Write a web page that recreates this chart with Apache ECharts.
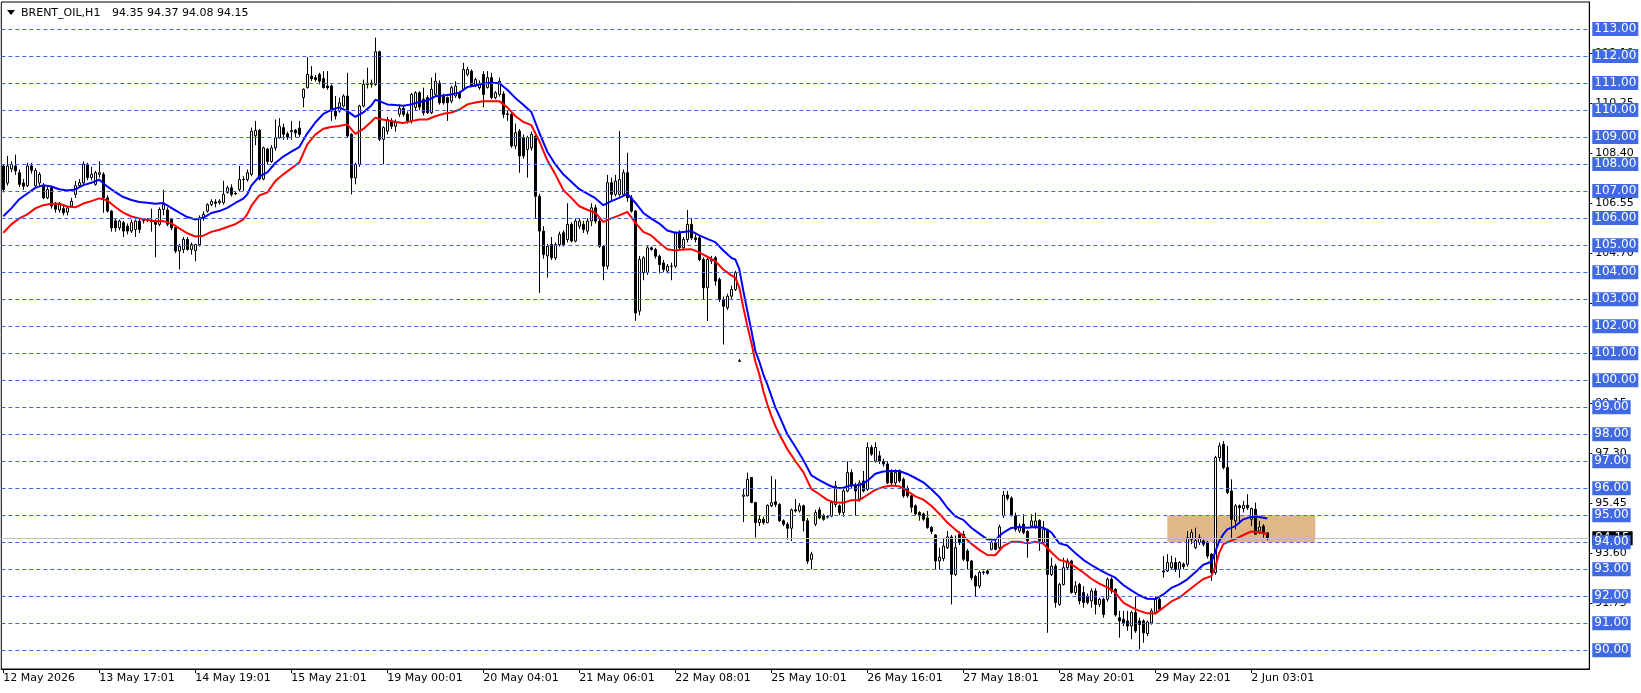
<!DOCTYPE html>
<html><head><meta charset="utf-8">
<script src="https://cdn.jsdelivr.net/npm/echarts@6/dist/echarts.min.js"></script>
<style>html,body{margin:0;padding:0;background:#fff;}#c{width:1641px;height:693px;}</style>
</head><body><div id="c"></div><script>
// ---------------- DATA ----------------
const symbolName = 'BRENT_OIL,H1';
const timeLabels = ['12 May 2026','13 May 17:01','14 May 19:01','15 May 21:01','19 May 00:01','20 May 04:01','21 May 06:01','22 May 08:01','25 May 10:01','26 May 16:01','27 May 18:01','28 May 20:01','29 May 22:01','2 Jun 03:01'];
const LABEL_STEP = 24;      // bars between time labels
const TOTAL_SLOTS = 397;    // bars + empty chart-shift slots
const levelLines = [113,112,111,110,109,108,107,106,105,104,103,102,101,100,99,98,97,96,95,94,93,92,91,90];
const scaleTicks = [112.10,110.25,108.40,106.55,104.70,102.85,101.00,99.15,97.30,95.45,93.60,91.75];
const zoneBars = [291, 328];
const zonePrices = [94, 95];

const opens = [
107.93,107.30,107.82,107.93,107.68,107.30,107.20,107.93,107.20,107.30,
107.19,106.75,107.12,106.50,106.30,106.35,106.22,106.45,106.88,107.20,
107.30,107.99,107.50,107.25,107.62,107.62,106.75,106.26,105.90,105.64,
105.83,105.70,105.52,105.58,105.89,105.95,105.95,105.92,105.90,105.77,
106.32,106.30,105.95,105.64,104.78,104.84,105.21,104.84,104.80,105.02,
106.00,106.26,106.50,106.60,106.57,106.57,106.95,107.12,106.92,107.06,
107.43,107.43,107.62,109.05,109.25,107.45,108.55,108.10,108.60,108.97,
109.35,109.12,109.20,109.25,109.33,110.46,110.83,111.26,111.20,111.32,
111.16,110.89,110.89,109.96,109.96,110.15,110.52,109.10,107.49,107.99,
110.15,111.00,110.95,110.95,112.16,108.92,109.22,109.60,109.40,109.85,
110.06,109.85,109.60,110.10,110.64,110.40,110.46,109.90,110.58,111.00,
110.52,110.46,110.33,110.52,110.64,110.77,111.32,111.44,110.89,110.83,
111.32,110.83,111.20,110.46,110.58,110.60,109.86,109.84,108.67,109.22,
108.98,108.54,108.60,109.04,106.81,105.52,104.60,105.02,104.53,105.02,
105.46,105.21,105.77,105.15,105.70,105.77,105.52,105.89,106.38,105.89,
104.96,104.22,107.31,106.88,106.88,106.88,107.68,106.75,106.26,102.56,
103.98,103.98,104.90,104.84,104.59,104.34,104.04,104.22,104.22,105.46,
104.90,105.21,105.77,105.27,105.27,104.47,103.42,104.41,104.53,103.73,
102.99,102.68,103.11,103.36,100.72,95.70,95.72,96.40,95.47,94.73,
94.85,94.73,95.35,95.50,95.40,94.80,94.67,94.52,95.20,95.16,
95.35,94.80,93.37,94.67,95.20,95.00,94.93,94.97,95.40,95.35,
95.10,95.90,96.58,96.09,95.60,96.27,95.96,97.51,97.00,97.20,
97.00,96.90,96.58,96.20,96.65,96.33,96.00,95.72,95.35,95.10,
95.05,94.90,94.55,94.27,93.31,93.40,93.80,94.20,92.81,94.30,
94.30,93.68,93.31,92.73,92.38,92.88,92.94,93.74,93.99,93.80,
94.98,95.75,95.63,94.98,94.42,94.67,94.40,94.60,94.60,94.81,
93.99,94.48,92.81,93.12,91.70,92.44,93.06,93.31,92.14,92.44,
92.14,92.01,91.83,92.20,91.70,91.89,91.89,92.63,92.26,91.21,
91.15,91.09,90.90,91.40,91.09,91.09,90.62,91.02,91.40,91.89,
92.94,92.94,93.06,93.25,93.00,93.19,93.19,94.11,93.80,93.99,
94.05,93.99,93.56,92.88,97.14,97.63,96.77,95.90,94.79,95.35,
95.25,95.37,94.85,95.22,94.42,94.60,94.35];

const highs = [
108.00,108.30,108.10,108.35,107.80,107.45,108.05,108.05,107.85,107.70,
107.30,107.15,107.20,106.60,106.60,106.45,106.45,106.75,107.38,107.45,
108.10,108.05,107.90,107.75,108.10,107.70,106.85,106.30,106.00,105.95,
105.90,105.80,105.95,105.95,106.00,106.00,106.00,106.35,105.95,106.40,
107.05,106.40,106.00,105.70,105.05,105.30,105.30,105.10,105.05,106.10,
106.25,106.55,106.70,106.70,106.70,107.38,107.20,107.25,107.00,107.93,
107.55,107.80,109.35,109.60,109.30,108.65,108.60,108.70,109.65,109.70,
109.50,109.20,109.60,109.30,109.60,110.80,111.96,111.63,111.30,111.38,
111.44,111.44,110.95,110.52,110.46,110.58,111.38,109.15,108.05,110.20,
111.13,111.57,111.13,112.68,112.20,109.40,109.75,109.70,109.65,110.20,
110.15,109.95,110.63,110.70,110.70,110.83,110.55,111.20,111.38,111.10,
110.60,110.50,110.90,111.07,110.70,111.75,111.60,111.50,111.20,111.10,
111.44,111.44,111.38,110.70,111.20,110.70,110.00,109.90,109.50,109.30,
109.10,109.05,109.20,109.20,106.90,105.70,105.05,105.30,105.10,105.50,
105.55,106.55,105.85,106.00,106.00,105.90,106.00,106.55,106.50,106.00,
105.00,107.60,107.50,107.60,109.22,107.80,108.42,106.85,106.30,104.60,
104.60,105.00,104.95,104.90,104.65,104.45,104.30,104.35,105.50,105.55,
105.30,106.30,106.00,105.40,105.35,104.55,104.55,104.60,104.60,103.80,
103.10,103.20,103.50,104.05,100.78,95.97,96.58,96.40,95.50,94.98,
94.95,95.40,96.45,96.33,95.45,94.85,94.75,95.25,95.60,95.45,
95.40,94.90,93.65,95.20,95.30,95.05,95.00,95.53,96.27,95.40,
96.00,97.00,96.70,96.20,96.30,96.64,97.70,97.60,97.70,97.38,
97.10,97.00,96.70,96.70,96.70,96.40,96.10,95.80,95.40,95.15,
95.10,95.16,94.60,94.30,93.80,94.17,94.42,94.27,94.25,94.40,
94.42,93.75,93.35,92.80,92.95,92.95,93.00,94.05,94.10,94.65,
95.90,95.90,95.70,95.10,94.70,95.04,94.45,95.04,95.10,94.85,
94.79,94.50,93.43,93.20,92.50,93.43,93.40,93.35,92.57,92.50,
92.38,92.10,92.30,92.30,91.95,91.95,92.69,92.70,92.30,91.46,
91.46,91.46,91.46,92.01,91.21,91.15,91.10,91.55,92.00,91.95,
93.49,93.56,93.50,93.43,93.30,93.25,94.42,94.48,94.54,94.30,
94.10,94.05,93.60,97.20,97.69,97.75,97.57,96.33,95.41,95.40,
95.53,95.78,95.28,95.47,94.79,94.67,94.37];

const lows = [
106.95,107.20,107.70,107.60,107.15,107.05,107.15,107.65,107.10,107.20,
106.70,106.70,106.35,106.20,106.20,106.10,106.10,106.40,106.75,107.15,
107.20,107.40,107.40,107.20,107.50,106.20,106.20,105.50,105.50,105.55,
105.30,105.40,105.45,105.30,105.45,105.80,105.85,105.50,104.55,105.70,
106.10,105.70,105.55,104.70,104.10,104.70,104.80,104.65,104.40,104.95,
105.90,106.20,106.45,106.40,106.50,106.50,106.90,106.80,106.85,107.00,
107.00,107.35,107.55,108.70,107.40,107.40,108.00,108.05,108.50,108.95,
108.90,108.90,108.90,109.00,109.00,110.10,110.80,111.07,111.05,110.95,
110.80,110.75,109.60,109.65,109.90,110.10,108.97,106.88,107.25,107.90,
110.10,110.80,110.83,110.90,108.85,108.00,109.10,109.30,109.20,109.75,
109.75,109.50,109.50,110.00,110.00,109.80,109.85,109.85,110.50,110.20,
110.20,109.60,110.25,110.45,110.40,110.70,111.25,110.85,110.85,110.75,
110.10,110.80,110.40,110.40,110.50,109.70,109.60,108.60,108.55,107.68,
108.20,107.50,108.50,106.00,103.23,104.50,103.80,104.45,104.45,104.95,
104.95,105.10,105.10,105.10,105.60,105.45,105.40,105.70,105.80,104.90,
103.70,104.10,106.60,106.80,106.80,106.80,106.60,106.20,102.20,102.40,
103.70,103.90,104.80,104.50,103.95,104.00,103.95,103.70,104.15,104.80,
104.80,105.10,105.20,105.10,104.40,102.99,102.19,104.30,103.50,102.90,
101.32,102.60,103.00,103.30,100.70,94.75,95.70,95.45,94.17,94.60,
94.65,94.70,95.30,95.30,94.75,94.60,94.10,94.05,95.10,95.10,
94.40,93.20,93.00,94.60,94.85,94.80,94.88,94.93,95.30,95.00,
94.95,95.85,96.00,94.98,95.50,95.85,95.90,97.20,96.95,96.90,
96.80,96.15,96.10,96.10,96.20,95.65,95.65,95.10,95.00,94.80,
94.80,94.50,94.30,93.00,93.00,93.30,93.75,91.70,92.75,93.90,
93.30,93.00,92.60,92.01,92.30,92.80,92.80,93.70,93.70,93.70,
94.90,95.55,94.95,94.40,94.35,94.30,93.43,94.55,94.50,93.68,
93.95,90.65,92.75,91.58,91.65,92.40,93.00,92.10,92.05,91.70,
91.58,91.70,91.58,91.33,91.60,91.21,91.80,92.10,91.25,90.47,
90.90,90.72,90.41,90.65,90.04,90.28,90.53,90.95,91.35,91.45,
92.69,92.90,93.00,92.90,92.69,93.00,93.10,93.93,93.75,93.90,
93.85,93.40,92.57,92.80,97.00,96.70,95.78,94.11,94.48,94.67,
95.10,95.20,94.60,94.30,94.30,94.17,94.08];

const closes = [
107.06,107.93,107.99,107.75,107.25,107.18,107.93,107.77,107.76,107.62,
106.75,107.06,106.45,106.33,106.50,106.20,106.38,106.62,107.20,107.31,
108.00,107.50,107.62,107.68,107.68,106.75,106.26,105.64,105.64,105.89,
105.52,105.52,105.83,105.89,105.58,105.90,105.90,105.87,105.77,106.32,
106.50,105.77,105.64,104.78,104.96,105.21,104.84,105.02,105.02,106.01,
106.14,106.50,106.62,106.55,106.63,106.88,107.12,106.88,106.90,107.43,
107.43,107.68,109.22,109.25,107.45,108.60,108.10,108.60,108.97,109.40,
109.10,109.00,109.25,109.15,109.10,110.77,111.32,111.16,111.13,111.07,
110.83,110.83,109.96,109.78,110.27,110.52,109.04,107.49,107.99,110.15,
110.95,110.95,111.00,112.16,108.92,109.35,109.65,109.40,109.55,110.06,
109.84,109.60,110.58,110.64,110.11,109.90,109.90,110.77,111.07,110.27,
110.27,110.27,110.83,110.89,110.46,111.50,111.50,110.89,111.13,111.00,
110.58,111.20,110.46,110.64,111.07,109.84,109.84,108.67,109.16,108.30,
108.30,108.98,109.10,106.81,105.52,104.65,104.96,104.53,105.02,105.40,
105.02,105.77,105.15,105.89,105.89,105.58,105.89,106.38,105.89,104.96,
104.22,107.31,106.88,107.37,107.43,107.68,106.75,106.26,102.49,104.47,
104.53,104.90,104.84,104.59,104.28,104.10,104.22,104.22,105.46,104.90,
105.21,105.77,105.27,105.21,104.47,103.42,104.47,104.47,103.67,102.99,
102.74,103.11,103.36,103.98,100.70,95.75,96.33,95.47,94.73,94.85,
94.73,95.37,95.47,95.40,94.80,94.67,94.52,95.20,95.16,95.35,
94.80,93.30,93.56,95.10,94.90,94.85,94.95,95.47,96.08,95.10,
95.90,96.58,96.09,95.90,96.20,95.90,97.51,97.26,97.51,97.00,
96.90,96.20,96.20,96.58,96.27,95.72,95.72,95.30,95.05,94.98,
94.85,94.55,94.40,93.31,93.45,93.86,94.20,92.81,93.80,93.99,
93.37,93.31,92.69,92.38,92.88,92.90,92.85,93.99,93.74,94.57,
95.75,95.63,95.01,94.48,94.60,94.36,94.05,94.79,94.79,94.05,
94.48,92.81,93.12,91.77,92.44,93.06,93.31,92.14,92.38,91.83,
91.77,91.77,92.20,91.70,91.89,91.33,92.63,92.20,91.31,91.09,
91.02,90.90,91.40,90.72,90.96,90.65,91.05,91.46,91.89,91.52,
92.90,93.25,93.25,93.00,93.25,93.10,94.17,94.36,94.07,94.17,
93.93,93.49,92.88,97.14,97.57,96.77,95.84,94.85,95.35,95.28,
95.37,95.28,95.25,94.30,94.57,94.36,94.15];

// moving-average envelope lines (bar index, price)
const maBars = [
0,2,4,6,8,10,12,14,16,18,
20,22,24,26,28,30,32,34,36,38,
40,42,44,46,48,50,52,54,56,58,
60,61,62,64,66,68,70,72,74,76,
78,80,82,84,86,88,90,92,93,94,
96,98,100,102,104,106,108,110,112,114,
116,118,120,122,124,126,128,130,132,134,
136,138,140,142,144,146,148,150,152,154,
156,158,160,162,164,166,168,170,172,174,
176,178,180,182,183,184,185,186,187,188,
189,190,191,192,193,194,196,198,200,202,
204,206,208,210,212,214,216,218,220,222,
224,226,228,230,232,234,236,238,240,242,
244,246,248,250,252,254,256,258,260,262,
264,266,268,270,272,274,276,278,280,282,
284,286,288,290,292,294,296,298,300,302,
303,304,305,306,308,310,312,314,316];
const maUpper = [
106.07,106.36,106.70,106.91,107.12,107.22,107.17,107.07,107.02,107.06,
107.22,107.31,107.42,107.17,106.96,106.78,106.67,106.60,106.57,106.53,
106.56,106.38,106.20,106.04,105.95,106.01,106.19,106.26,106.38,106.56,
106.72,106.88,107.20,107.54,107.69,108.04,108.28,108.46,108.63,109.14,
109.54,109.86,110.01,110.10,109.96,109.75,109.91,110.17,110.38,110.33,
110.21,110.19,110.16,110.21,110.30,110.35,110.51,110.54,110.58,110.64,
110.85,110.91,110.98,111.01,110.99,110.75,110.45,110.20,109.93,109.16,
108.46,107.99,107.62,107.35,107.07,106.91,106.74,106.48,106.63,106.75,
106.90,106.57,106.19,105.98,105.80,105.54,105.46,105.49,105.52,105.36,
105.23,105.11,104.80,104.53,104.47,104.11,103.31,102.57,101.85,101.09,
100.69,100.22,99.85,99.42,99.00,98.68,98.00,97.54,97.05,96.48,
96.30,96.14,96.01,96.02,96.11,96.11,96.27,96.54,96.62,96.64,
96.64,96.53,96.38,96.22,95.96,95.68,95.28,94.96,94.83,94.54,
94.32,94.11,94.09,94.36,94.53,94.57,94.54,94.57,94.54,94.37,
93.96,93.88,93.60,93.35,93.16,92.99,92.83,92.69,92.42,92.22,
92.04,91.91,91.90,92.07,92.31,92.44,92.63,92.89,93.17,93.28,
93.64,94.05,94.30,94.48,94.60,94.85,94.94,94.94,94.88];
const maLower = [
105.46,105.77,105.99,106.14,106.36,106.48,106.53,106.53,106.43,106.40,
106.54,106.63,106.73,106.65,106.41,106.20,106.06,105.99,105.94,105.88,
105.89,105.81,105.62,105.44,105.32,105.35,105.49,105.57,105.67,105.78,
105.95,106.15,106.45,106.84,106.95,107.37,107.62,107.84,108.06,108.73,
109.09,109.31,109.37,109.41,109.47,109.12,109.30,109.57,109.72,109.67,
109.62,109.56,109.52,109.59,109.65,109.65,109.77,109.86,109.91,110.01,
110.21,110.28,110.33,110.33,110.33,110.10,109.78,109.56,109.44,108.85,
108.14,107.62,107.04,106.75,106.44,106.31,106.20,105.86,105.99,106.10,
106.23,105.83,105.49,105.36,105.09,104.85,104.80,104.84,104.85,104.73,
104.57,104.41,104.10,103.88,103.80,103.43,102.69,102.01,101.40,100.69,
100.22,99.60,99.11,98.68,98.31,98.00,97.45,97.01,96.60,95.98,
95.78,95.57,95.47,95.46,95.56,95.56,95.75,95.94,96.05,96.10,
96.07,95.90,95.70,95.58,95.35,95.06,94.73,94.47,94.23,93.95,
93.72,93.53,93.52,93.86,94.02,94.02,93.96,94.02,93.95,93.63,
93.35,93.27,93.09,92.88,92.65,92.47,92.33,92.14,91.77,91.60,
91.46,91.37,91.36,91.58,91.81,91.95,92.19,92.42,92.64,92.75,
93.09,93.62,93.93,94.00,94.12,94.27,94.40,94.37,94.30];

// ---------------- CHART ----------------
const FONT = 'DejaVu Sans';
const chart = echarts.init(document.getElementById('c'), null, {renderer: 'canvas'});
const slots = [];
for (let i = 0; i < TOTAL_SLOTS; i++) slots.push('b' + i);
const ohlc = opens.map((o, i) => [o, closes[i], lows[i], highs[i]]);
const upperLine = maBars.map((b, i) => [b, maUpper[i]]);
const lowerLine = maBars.map((b, i) => [b, maLower[i]]);
const last = opens.length - 1;
const bidPrice = closes[last];
const quoteText = [opens[last], highs[last], lows[last], closes[last]].map(v => v.toFixed(2)).join(' ');
const isLabelBar = (idx) => idx % LABEL_STEP === 0 && idx / LABEL_STEP < timeLabels.length;

const option = {
  animation: false,
  backgroundColor: '#ffffff',
  grid: {left: 1.3, top: 2, width: 1588, height: 667, show: true, borderColor: '#000', borderWidth: 1, backgroundColor: 'transparent'},
  xAxis: {
    type: 'category', data: slots, boundaryGap: true,
    axisLine: {show: true, lineStyle: {color: '#000', width: 1}},
    axisTick: {show: true, interval: (i) => isLabelBar(i), alignWithLabel: true, length: 4, lineStyle: {color: '#000'}},
    axisLabel: {show: true, interval: (i) => isLabelBar(i), formatter: (v, i) => timeLabels[i / LABEL_STEP] || '',
      align: 'left', margin: 4, color: '#000', fontSize: 11, fontFamily: FONT},
    splitLine: {show: false}
  },
  yAxis: {
    type: 'value', position: 'right', min: 89.31, max: 114.0,
    axisLine: {show: true, lineStyle: {color: '#000', width: 1}},
    axisTick: {show: true, customValues: scaleTicks, length: 3, lineStyle: {color: '#000'}},
    axisLabel: {show: true, customValues: scaleTicks, formatter: (v) => Number(v).toFixed(2), color: '#000', fontSize: 11, fontFamily: FONT, margin: 6},
    splitLine: {show: false}
  },
  graphic: [
    {type: 'polygon', shape: {points: [[7, 10], [15, 10], [11, 15]]}, style: {fill: '#000'}},
    {type: 'text', x: 21, y: 13, style: {text: symbolName, font: '11px "DejaVu Sans"', fill: '#000', verticalAlign: 'middle', align: 'left'}},
    {type: 'text', x: 112, y: 13, style: {text: quoteText, font: '11px "DejaVu Sans"', fill: '#000', verticalAlign: 'middle', align: 'left'}}
  ],
  series: [
    {
      type: 'candlestick', name: 'price', data: ohlc, barWidth: 3, clip: false,
      emphasis: {disabled: true},
      itemStyle: {color: '#ffffff', color0: '#000000', borderColor: '#000000', borderColor0: '#000000', borderWidth: 1},
      markArea: {
        silent: true, z: 1,
        itemStyle: {color: '#DEB887', opacity: 1},
        data: [[{xAxis: zoneBars[0], yAxis: zonePrices[1]}, {xAxis: zoneBars[1], yAxis: zonePrices[0]}]]
      }
    },
    {
      type: 'line', name: 'lower', data: lowerLine, symbol: 'none', clip: false,
      lineStyle: {color: '#FF0000', width: 2}, emphasis: {disabled: true},
      markLine: {
        silent: true, symbol: ['none', 'none'], z: 4, animation: false,
        lineStyle: {color: '#C0C0C0', type: 'solid', width: 1},
        label: {show: true, position: 'end', distance: 3, formatter: () => bidPrice.toFixed(2),
          color: '#fff', backgroundColor: '#000', padding: [2, 3, 1, 3], lineHeight: 11, fontSize: 12, fontFamily: FONT},
        data: [{yAxis: bidPrice}]
      }
    },
    {
      type: 'line', name: 'upper', data: upperLine, symbol: 'none', clip: false,
      lineStyle: {color: '#0000FF', width: 2}, emphasis: {disabled: true},
      markLine: {
        silent: true, symbol: ['none', 'none'], z: 5, animation: false,
        lineStyle: {color: '#4169E1', type: [4, 3], width: 1},
        label: {show: true, position: 'end', distance: 3, formatter: (p) => Number(p.value).toFixed(2),
          color: '#fff', backgroundColor: '#4169E1', padding: [2, 2, 1, 2], lineHeight: 11, fontSize: 12, fontFamily: FONT},
        data: levelLines.map(v => ({yAxis: v}))
      }
    }
  ]
};
chart.setOption(option);
</script></body></html>
